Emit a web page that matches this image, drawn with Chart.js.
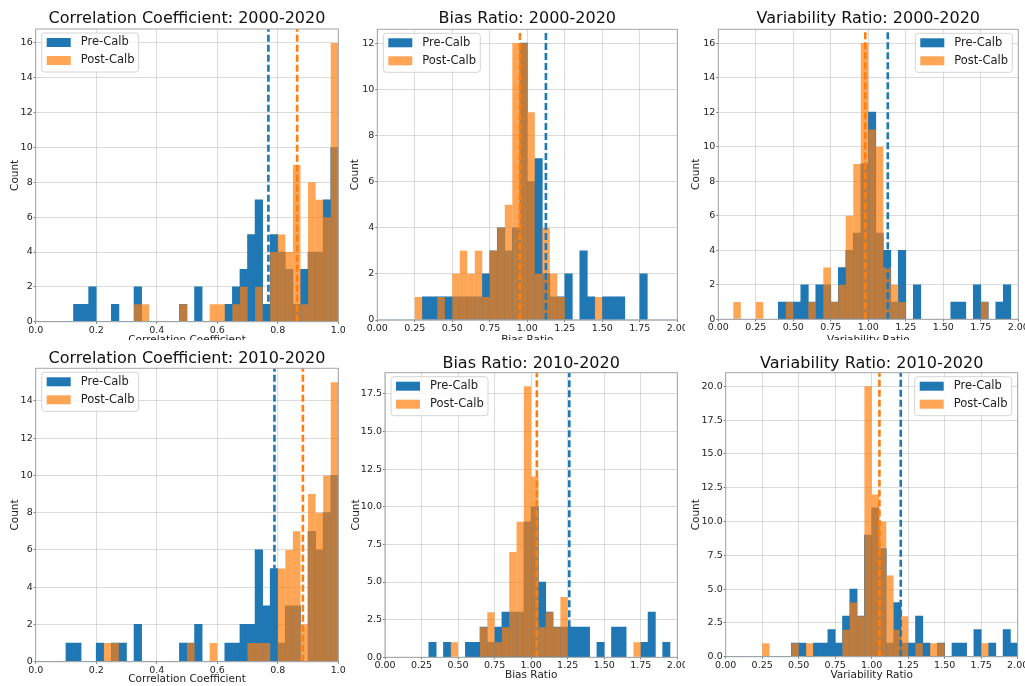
<!DOCTYPE html>
<html>
<head>
<meta charset="utf-8">
<title>Pre / Post calibration histograms</title>
<script src="https://cdn.jsdelivr.net/npm/chart.js@4.4.1/dist/chart.umd.min.js"></script>
<style>
  html, body { margin: 0; padding: 0; background: #fff; overflow: hidden; width: 1025px; height: 686px; }
  canvas { position: absolute; background: #fff; }
</style>
</head>
<body>
<script>
// histogram bins: correlation 0-1 step 0.025, ratios 0-2 step 0.05 (40 bins each)
var corrBinStart = 0, corrBinWidth = 0.025;
var ratioBinStart = 0, ratioBinWidth = 0.05;

// counts per bin
var corrPre2000  = [0,0,0,0,0, 1,1,2,0,0, 1,0,0,2,0, 0,0,0,0,1, 0,2,0,0,0, 1,2,3,5,7, 1,5,4,3,1, 3,4,4,7,10];
var corrPost2000 = [0,0,0,0,0, 0,0,0,0,0, 0,0,0,1,1, 0,0,0,0,1, 0,0,0,1,1, 0,1,2,0,2, 0,4,5,4,9, 1,8,7,6,16];
var biasPre2000  = [0,0,0,0,0, 0,1,1,1,1, 1,1,1,1,2, 3,4,3,4,12, 6,7,2,1,1, 2,0,3,1,0, 1,1,1,0,0, 2,0,0,0,0];
var biasPost2000 = [0,0,0,0,0, 1,0,0,1,0, 2,3,2,3,1, 3,4,5,12,12, 9,2,4,2,1, 0,0,0,0,1, 0,0,0,0,0, 0,0,0,0,0];
var varPre2000   = [0,0,0,0,0, 0,0,0,1,1, 1,2,1,2,2, 1,3,4,5,9, 12,5,4,1,4, 0,2,0,0,0, 0,1,1,0,2, 1,0,1,2,0];
var varPost2000  = [0,0,1,0,0, 1,0,0,0,1, 0,0,1,0,3, 1,2,6,9,16, 11,10,3,2,1, 0,0,0,0,0, 0,0,0,0,0, 1,0,0,0,0];
var corrPre2010  = [0,0,0,0,1, 1,0,0,1,0, 1,1,0,2,0, 0,0,0,0,1, 1,2,0,0,0, 1,1,2,2,6, 3,5,1,3,3, 0,7,6,8,10];
var corrPost2010 = [0,0,0,0,0, 0,0,0,0,1, 1,0,0,0,0, 0,0,0,0,0, 1,0,0,1,0, 0,0,0,1,1, 1,0,5,6,7, 2,9,8,10,15];
var biasPre2010  = [0,0,0,0,0, 0,1,0,1,0, 0,1,1,2,1, 2,3,3,3,9, 10,5,3,2,2, 2,2,2,0,1, 0,2,2,0,0, 1,3,0,1,0];
var biasPost2010 = [0,0,0,0,0, 0,0,0,0,1, 0,0,0,2,3, 1,2,7,9,18, 12,2,3,2,4, 0,0,0,0,0, 0,0,0,0,1, 0,0,0,0,0];
var varPre2010   = [0,0,0,0,0, 0,0,0,0,1, 1,0,1,1,2, 1,3,5,3,9, 11,8,1,4,1, 1,3,1,0,1, 0,1,1,0,2, 0,1,0,2,1];
var varPost2010  = [0,0,0,0,0, 1,0,0,0,1, 0,1,0,0,0, 0,2,4,3,20, 12,10,6,2,3, 0,1,0,1,1, 0,0,0,0,0, 1,0,0,0,0];

// dashed mean lines, same panel order
var preMeans  = [0.769, 1.124, 1.13, 0.789, 1.261, 1.199];
var postMeans = [0.864, 0.951, 0.98, 0.883, 1.039, 1.053];

var panelTitles = ['Correlation Coefficient: 2000-2020', 'Bias Ratio: 2000-2020', 'Variability Ratio: 2000-2020',
                   'Correlation Coefficient: 2010-2020', 'Bias Ratio: 2010-2020', 'Variability Ratio: 2010-2020'];
var xTitles = ['Correlation Coefficient', 'Bias Ratio', 'Variability Ratio',
               'Correlation Coefficient', 'Bias Ratio', 'Variability Ratio'];

// tick labels
var corrTicks  = [0, 0.2, 0.4, 0.6, 0.8, 1.0];
var ratioTicks = [0, 0.25, 0.5, 0.75, 1.0, 1.25, 1.5, 1.75, 2.0];
var yTicks16   = [0, 2, 4, 6, 8, 10, 12, 14, 16];
var yTicks12   = [0, 2, 4, 6, 8, 10, 12];
var yTicks14   = [0, 2, 4, 6, 8, 10, 12, 14];
var yTicks175  = [0, 2.5, 5, 7.5, 10, 12.5, 15, 17.5];
var yTicks20   = [0, 2.5, 5, 7.5, 10, 12.5, 15, 17.5, 20];
var yMaxes     = [16.8, 12.6, 16.8, 15.75, 18.9, 21];

var BLUE = '#1f77b4';
var ORANGE = 'rgba(255,127,14,0.7)';
var GRID = 'rgba(176,176,176,0.45)';
var FONT = "'DejaVu Sans', sans-serif";

Chart.defaults.font.family = FONT;
Chart.defaults.color = '#222';

var panels = [
  { pre: corrPre2000, post: corrPost2000, start: corrBinStart, width: corrBinWidth, xMax: 1, xTicks: corrTicks, xDec: 1, yTicks: yTicks16, yDec: 0, legend: 'left' },
  { pre: biasPre2000, post: biasPost2000, start: ratioBinStart, width: ratioBinWidth, xMax: 2, xTicks: ratioTicks, xDec: 2, yTicks: yTicks12, yDec: 0, legend: 'left' },
  { pre: varPre2000, post: varPost2000, start: ratioBinStart, width: ratioBinWidth, xMax: 2, xTicks: ratioTicks, xDec: 2, yTicks: yTicks16, yDec: 0, legend: 'right' },
  { pre: corrPre2010, post: corrPost2010, start: corrBinStart, width: corrBinWidth, xMax: 1, xTicks: corrTicks, xDec: 1, yTicks: yTicks14, yDec: 0, legend: 'left' },
  { pre: biasPre2010, post: biasPost2010, start: ratioBinStart, width: ratioBinWidth, xMax: 2, xTicks: ratioTicks, xDec: 2, yTicks: yTicks175, yDec: 1, legend: 'left' },
  { pre: varPre2010, post: varPost2010, start: ratioBinStart, width: ratioBinWidth, xMax: 2, xTicks: ratioTicks, xDec: 2, yTicks: yTicks20, yDec: 1, legend: 'right' }
];

// page geometry: canvas [left, top, w, h], plot area [l, t, r, b], text centres
var boxes = [
  { canvas: [0, 0, 365, 352],     area: [35.7, 29, 338.3, 321.7],    yTitleX: 15,    xTitleY: 340.5, titleY: 19 },
  { canvas: [345, 0, 360, 352],   area: [377.3, 29.3, 677.3, 320],   yTitleX: 355.7, xTitleY: 340.5, titleY: 19 },
  { canvas: [685, 0, 360, 352],   area: [718.3, 29.3, 1018.3, 319.3], yTitleX: 696.7, xTitleY: 340.5, titleY: 19 },
  { canvas: [0, 340, 365, 346],   area: [35.7, 368.3, 338.3, 661.7], yTitleX: 15,    xTitleY: 679.5, titleY: 358.7 },
  { canvas: [345, 340, 360, 346], area: [385, 372.7, 677.3, 657.3],  yTitleX: 356,   xTitleY: 675,   titleY: 364 },
  { canvas: [685, 340, 360, 346], area: [725.7, 372.7, 1017.7, 656.7], yTitleX: 696.7, xTitleY: 675, titleY: 364 }
];

function histPoints(start, width, counts) {
  return counts.map(function (c, i) { return { x: start + (i + 0.5) * width, y: c }; });
}

// frame, title and the in-plot legend
var panelDecor = {
  id: 'panelDecor',
  afterDraw: function (chart, args, o) {
    var ctx = chart.ctx, a = chart.chartArea;
    ctx.save();
    ctx.strokeStyle = '#a6a6a6';
    ctx.lineWidth = 1;
    ctx.strokeRect(a.left, a.top, a.right - a.left, a.bottom - a.top);

    ctx.fillStyle = '#111';
    ctx.font = '16px ' + FONT;
    ctx.textAlign = 'center';
    ctx.textBaseline = 'middle';
    ctx.fillText(o.title, (a.left + a.right) / 2, o.titleY);

    var w = 97, h = 39;
    var bx = o.side === 'left' ? a.left + 6 : a.right - 6 - w;
    var by = a.top + 4;
    ctx.beginPath();
    ctx.roundRect(bx, by, w, h, 3);
    ctx.fillStyle = 'rgba(255,255,255,0.8)';
    ctx.fill();
    ctx.strokeStyle = '#d4d4d4';
    ctx.stroke();
    ctx.font = '11.5px ' + FONT;
    ctx.textAlign = 'left';
    for (var i = 0; i < 2; i++) {
      var ds = chart.data.datasets[i];
      var cy = by + 9.5 + i * 18;
      ctx.fillStyle = ds.backgroundColor;
      ctx.fillRect(bx + 5, cy - 4.5, 24, 9);
      ctx.fillStyle = '#222';
      ctx.fillText(ds.label, bx + 39, cy);
    }
    ctx.restore();
  }
};

panels.forEach(function (p, k) {
  var g = boxes[k];
  var cl = g.canvas[0], ct = g.canvas[1], cw = g.canvas[2], ch = g.canvas[3];
  var al = g.area[0], at = g.area[1], ar = g.area[2], ab = g.area[3];
  var yMax = yMaxes[k];
  var xBottom = Math.min(ct + ch, g.xTitleY + 6.3);

  var canvas = document.createElement('canvas');
  canvas.width = cw;
  canvas.height = ch;
  canvas.style.left = cl + 'px';
  canvas.style.top = ct + 'px';
  canvas.style.width = cw + 'px';
  canvas.style.height = ch + 'px';
  document.body.appendChild(canvas);

  new Chart(canvas, {
    type: 'bar',
    data: {
      datasets: [
        { type: 'bar', label: 'Pre-Calb', data: histPoints(p.start, p.width, p.pre), backgroundColor: BLUE,
          barPercentage: 1, categoryPercentage: 1, grouped: false, borderWidth: 0, order: 3 },
        { type: 'bar', label: 'Post-Calb', data: histPoints(p.start, p.width, p.post), backgroundColor: ORANGE,
          barPercentage: 1, categoryPercentage: 1, grouped: false, borderWidth: 0, inflateAmount: 0, order: 2 },
        { type: 'line', label: 'Pre mean', data: [{ x: preMeans[k], y: 0 }, { x: preMeans[k], y: yMax }],
          borderColor: BLUE, borderWidth: 2.6, borderDash: [7, 3], pointRadius: 0, fill: false, order: 1 },
        { type: 'line', label: 'Post mean', data: [{ x: postMeans[k], y: 0 }, { x: postMeans[k], y: yMax }],
          borderColor: '#ff7f0e', borderWidth: 2.6, borderDash: [7, 3], pointRadius: 0, fill: false, order: 0 }
      ]
    },
    options: {
      responsive: false,
      animation: false,
      events: [],
      layout: { padding: { left: 0, top: at - ct, right: cl + cw - ar, bottom: ct + ch - xBottom } },
      scales: {
        x: {
          type: 'linear', min: 0, max: p.xMax, offset: false,
          grid: { offset: false, color: GRID, tickLength: 2, tickColor: '#777' },
          border: { display: false },
          ticks: { padding: 1, maxRotation: 0, autoSkip: false, font: { size: 9.5 },
                   callback: function (v) { return Number(v).toFixed(p.xDec); } },
          afterBuildTicks: function (s) { s.ticks = p.xTicks.map(function (v) { return { value: v }; }); },
          afterFit: function (s) { s.height = xBottom - ab; },
          title: { display: true, text: xTitles[k], font: { size: 10.5 }, padding: 0, color: '#222' }
        },
        y: {
          type: 'linear', min: 0, max: yMax,
          grid: { color: GRID, tickLength: 2, tickColor: '#777' },
          border: { display: false },
          ticks: { padding: 1, font: { size: 9.5 },
                   callback: function (v) { return Number(v).toFixed(p.yDec); } },
          afterBuildTicks: function (s) { s.ticks = p.yTicks.map(function (v) { return { value: v }; }); },
          afterFit: function (s) { s.width = al - cl; },
          title: { display: true, text: 'Count', font: { size: 10.5 }, color: '#222',
                   padding: { top: g.yTitleX - cl - 6.3, bottom: 0 } }
        }
      },
      plugins: {
        legend: { display: false },
        tooltip: { enabled: false },
        panelDecor: { title: panelTitles[k], titleY: g.titleY - ct, side: p.legend }
      }
    },
    plugins: [panelDecor]
  });
});
</script>
</body>
</html>
